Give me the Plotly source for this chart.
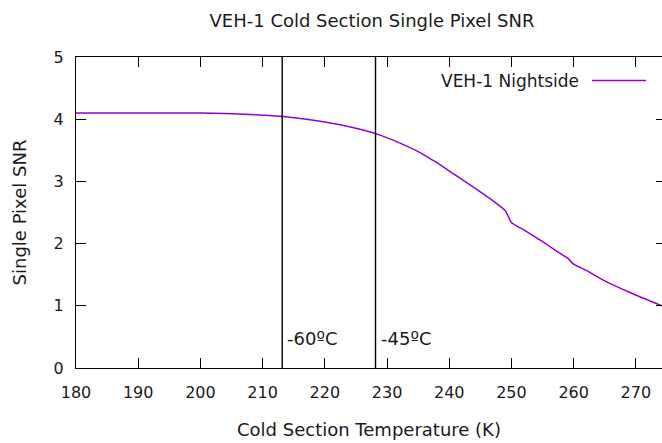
import plotly.graph_objects as go

# Cold section temperature (K) and single pixel SNR for the nightside case
temperature_k = [180, 190, 195, 200, 204, 208, 211, 214, 217, 220, 223, 226, 229,
                 232, 235, 238, 241, 244, 247, 249, 250, 252, 255, 258, 259, 260,
                 262, 265, 268, 271, 274.2]
snr = [4.10, 4.10, 4.10, 4.098, 4.09, 4.075, 4.058, 4.035, 4.00, 3.955, 3.90, 3.83, 3.74,
       3.62, 3.48, 3.30, 3.10, 2.90, 2.69, 2.53, 2.34, 2.22, 2.03, 1.83, 1.77, 1.67,
       1.57, 1.40, 1.26, 1.13, 1.00]

# Reference temperatures marked on the plot
marker_temps = [213.15, 228.15]
marker_labels = ["-60ºC", "-45ºC"]

x_ticks = [180, 190, 200, 210, 220, 230, 240, 250, 260, 270]
y_ticks = [0, 1, 2, 3, 4, 5]

series_name = "VEH-1 Nightside"
line_color = "#9400D3"
font_family = "DejaVu Sans, Verdana, sans-serif"
text_color = "#1a1a1a"

# Plot-area geometry in pixels
W, H = 662, 443
ML, MR, MT, MB = 76, 0, 57, 75
plot_w = W - ML - MR
plot_h = H - MT - MB

fig = go.Figure()
fig.add_trace(go.Scatter(
    x=temperature_k, y=snr, mode="lines", name=series_name,
    line=dict(color=line_color, width=1.5, shape="spline", smoothing=0.6),
    showlegend=False,
))

# Invisible trace to carry the right-hand y axis ticks
fig.add_trace(go.Scatter(x=[180], y=[0], yaxis="y2", mode="markers",
                         marker=dict(opacity=0), showlegend=False, hoverinfo="skip"))

for t, lab in zip(marker_temps, marker_labels):
    fig.add_shape(type="line", xref="x", yref="y", x0=t, x1=t, y0=0, y1=5,
                  line=dict(color="black", width=1.4))
    fig.add_annotation(x=t, y=0.47, xref="x", yref="y", text=lab, showarrow=False,
                       xanchor="left", xshift=3, font=dict(size=18, color=text_color))

# Key: label text followed by a line sample
key_y = 1 - (80.5 - MT) / plot_h
fig.add_annotation(x=(581 - ML) / plot_w, y=key_y, xref="paper", yref="paper",
                   text=series_name, showarrow=False, xanchor="right", yanchor="middle",
                   font=dict(size=17, color=text_color))
fig.add_shape(type="line", xref="paper", yref="paper",
              x0=(592 - ML) / plot_w, x1=(646 - ML) / plot_w, y0=key_y, y1=key_y,
              line=dict(color=line_color, width=1.5))

fig.update_layout(
    width=W, height=H,
    margin=dict(l=ML, r=MR, t=MT, b=MB),
    paper_bgcolor="white", plot_bgcolor="white",
    font=dict(family=font_family, size=16, color=text_color),
    title=dict(text="VEH-1 Cold Section Single Pixel SNR", x=372 / W, xanchor="center",
               y=1 - 21 / H, yanchor="middle", font=dict(size=18)),
    xaxis=dict(
        range=[180, 274.2], tickvals=x_ticks, ticks="inside", ticklen=10,
        tickcolor="black", showline=True, linecolor="black", linewidth=1,
        mirror="ticks", showgrid=False, zeroline=False, ticklabelstandoff=10,
        tickfont=dict(size=16),
        title=dict(text="Cold Section Temperature (K)", standoff=22, font=dict(size=18)),
    ),
    yaxis=dict(
        range=[0, 5], tickvals=y_ticks, ticks="inside", ticklen=10,
        tickcolor="black", showline=True, linecolor="black", linewidth=1,
        showgrid=False, zeroline=False, ticklabelstandoff=8,
        tickfont=dict(size=16),
        title=dict(text="Single Pixel SNR", standoff=22, font=dict(size=18)),
    ),
    yaxis2=dict(
        range=[0, 5], tickvals=y_ticks, ticks="inside", ticklen=6,
        tickcolor="black", overlaying="y", side="right", showline=False,
        showticklabels=False, showgrid=False, zeroline=False,
    ),
)

fig.write_html("out.html")
